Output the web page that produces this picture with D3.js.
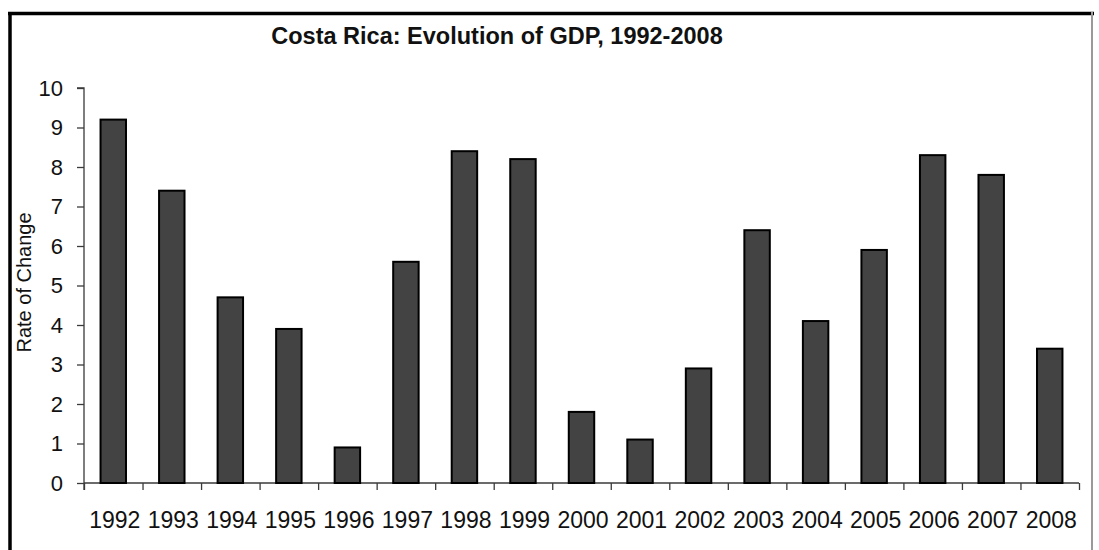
<!DOCTYPE html>
<html>
<head>
<meta charset="utf-8">
<script src="https://cdn.jsdelivr.net/npm/d3@7"></script>
<style>
  html, body { margin: 0; padding: 0; background: #fff; }
  svg { display: block; }
  text { font-family: "Liberation Sans", Arial, sans-serif; fill: #111; }
</style>
</head>
<body>
<svg id="chart" width="1099" height="550"></svg>
<script>
// Costa Rica GDP growth, annual rate of change (%)
const years = ["1992","1993","1994","1995","1996","1997","1998","1999","2000",
               "2001","2002","2003","2004","2005","2006","2007","2008"];
const growth = [9.2, 7.4, 4.7, 3.9, 0.9, 5.6, 8.4, 8.2, 1.8,
                1.1, 2.9, 6.4, 4.1, 5.9, 8.3, 7.8, 3.4];
const yTicks = [0,1,2,3,4,5,6,7,8,9,10];
const titleText = "Costa Rica: Evolution of GDP, 1992-2008";
const yLabel = "Rate of Change";

const svg = d3.select("#chart");
const W = 1099, H = 550;
const plot = { left: 84, right: 1079, top: 88, bottom: 483 };

// outer frame: heavy top/left rule, light right edge
svg.append("rect").attr("x", 0).attr("y", 0).attr("width", W).attr("height", H).attr("fill", "#fff");
svg.append("line").attr("x1", 8).attr("x2", 1094).attr("y1", 13.5).attr("y2", 13.5)
  .attr("stroke", "#000").attr("stroke-width", 3.5);
svg.append("line").attr("x1", 10).attr("x2", 10).attr("y1", 12).attr("y2", H)
  .attr("stroke", "#000").attr("stroke-width", 3.5);
svg.append("line").attr("x1", 1092).attr("x2", 1092).attr("y1", 12).attr("y2", H)
  .attr("stroke", "#9a9a9a").attr("stroke-width", 2);

const x = d3.scaleBand().domain(years).range([plot.left, plot.right]).padding(0);
const y = d3.scaleLinear().domain([0, 10]).range([plot.bottom, plot.top]);
const barW = x.bandwidth() / 2.3;

// category boundary ticks along the baseline
const xEdge = d3.scaleLinear().domain([0, years.length]).range([plot.left, plot.right]);
const xTickAxis = d3.axisBottom(xEdge).tickValues(d3.range(0, years.length + 1))
  .tickSize(7).tickFormat("");
const gx = svg.append("g").attr("transform", `translate(0,${plot.bottom})`).call(xTickAxis);
gx.select(".domain").attr("stroke", "#3a3a3a").attr("stroke-width", 1.3)
  .attr("d", `M${plot.left},0H${plot.right}`);
gx.selectAll(".tick line").attr("stroke", "#3a3a3a").attr("stroke-width", 1.3);

// year labels
svg.append("g").selectAll("text").data(years).join("text")
  .attr("x", d => x(d) + x.bandwidth() / 2 + 1.5)
  .attr("y", 528)
  .attr("text-anchor", "middle")
  .attr("font-size", 23)
  .text(d => d);

// value axis
const yAxis = d3.axisLeft(y).tickValues(yTicks).tickSize(7).tickPadding(14).tickFormat(d3.format("d"));
const gy = svg.append("g").attr("transform", `translate(${plot.left},0)`).call(yAxis);
gy.select(".domain").attr("stroke", "#3a3a3a").attr("stroke-width", 1.3)
  .attr("d", `M-7,${plot.top}H0V${plot.bottom + 7}`);
gy.selectAll(".tick line").attr("stroke", "#3a3a3a").attr("stroke-width", 1.3);
gy.selectAll(".tick text").attr("font-size", 22).attr("font-family", '"Liberation Sans", Arial, sans-serif')
  .attr("fill", "#111");

// bars
svg.append("g").selectAll("rect").data(growth).join("rect")
  .attr("x", (d, i) => x(years[i]) + (x.bandwidth() - barW) / 2)
  .attr("y", d => y(d))
  .attr("width", barW)
  .attr("height", d => y(0) - y(d))
  .attr("fill", "#434343")
  .attr("stroke", "#000")
  .attr("stroke-width", 2);

// title
svg.append("text")
  .attr("x", 497).attr("y", 44)
  .attr("text-anchor", "middle")
  .attr("font-size", 23.5).attr("font-weight", "bold")
  .text(titleText);

// value axis title
svg.append("text")
  .attr("transform", `translate(31,${(plot.top + plot.bottom) / 2 - 3}) rotate(-90)`)
  .attr("text-anchor", "middle")
  .attr("font-size", 20)
  .text(yLabel);
</script>
</body>
</html>
